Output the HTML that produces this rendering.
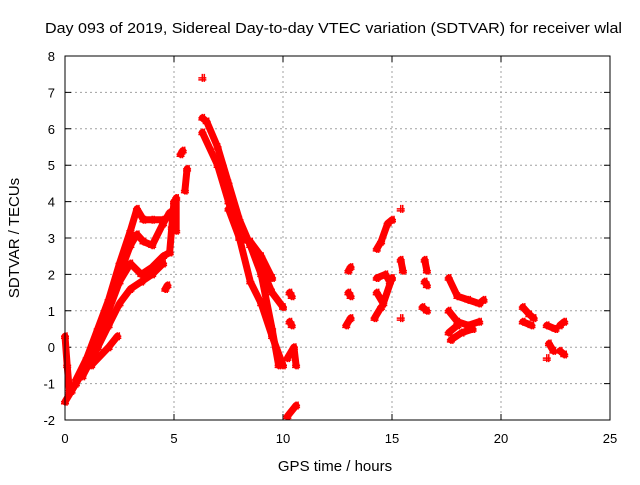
<!DOCTYPE html>
<html><head><meta charset="utf-8"><style>
body{margin:0;background:#fff;}
svg text{font-family:"Liberation Sans",sans-serif;fill:#000;}
</style></head><body>
<svg id="chart" width="640" height="480" xmlns="http://www.w3.org/2000/svg">
<rect width="640" height="480" fill="#fff"/>
<text x="45" y="33" font-size="15" textLength="577" lengthAdjust="spacingAndGlyphs">Day 093 of 2019, Sidereal Day-to-day VTEC variation (SDTVAR) for receiver wlal</text>
<text x="335" y="471" font-size="15" text-anchor="middle">GPS time / hours</text>
<text x="19" y="238" font-size="15" text-anchor="middle" transform="rotate(-90 19 238)">SDTVAR / TECUs</text>
<g id="grid"></g><g id="marks"></g>
<rect x="65" y="56" width="545" height="364" fill="none" stroke="#000" stroke-width="1"/>
</svg>
<script>
const xTicks=[0,5,10,15,20,25];
const yTicks=[-2,-1,0,1,2,3,4,5,6,7,8];
const tracks=[
[[0,-1.5],[0.5,-1],[1,-0.3],[1.5,0.5],[2,1.3],[2.5,2.3],[3,3.2],[3.3,3.8],[3.6,3.5],[4,3.5],[4.5,3.5]],
[[0.3,-1.2],[1,-0.5],[1.5,0.3],[2,1.2],[2.5,2.0],[3,2.8],[3.3,3.1],[3.6,2.9],[4,2.8],[4.5,3.4],[4.8,3.7]],
[[0.5,-0.9],[1,-0.3],[2,1],[2.5,1.8],[3,2.3],[3.5,2.0],[4,2.2],[4.5,2.5],[4.8,2.6]],
[[0.8,-0.8],[1.5,0.0],[2,0.6],[2.5,1.2],[3,1.6],[3.5,1.8],[4,2.0],[4.5,2.3]],
[[1.2,-0.5],[2,0],[2.4,0.3]],
[[0,0.3],[0.1,-0.5],[0.2,-1.2]],
[[4.6,1.6],[4.7,1.7]],
[[4.8,2.6],[4.9,3.3],[5,4.0]],
[[5.1,3.2],[5.1,4.1]],
[[5.3,5.3],[5.4,5.4]],
[[5.5,4.3],[5.6,4.9]],
[[6.3,7.4]],
[[6.3,6.3],[6.5,6.2],[7,5.5],[7.5,4.5],[8,3.5],[8.5,2.8],[9,2.0],[9.5,0.5],[9.8,-0.5]],
[[6.3,5.9],[7,5],[7.5,4],[8,3],[8.5,2.9],[9,2.5],[9.5,1.9]],
[[8.5,2.8],[9,2.2],[9.5,1.5],[10,1.1]],
[[7.5,3.8],[8,3.0],[8.5,1.8],[9,1.2],[9.5,0.3],[10,-0.5]],
[[10.3,1.5],[10.4,1.4]],[[10.3,0.7],[10.4,0.6]],
[[10.2,-0.3],[10.5,0],[10.6,-0.5]],[[10.2,-1.9],[10.6,-1.6]],
[[13,2.1],[13.1,2.2]],[[13,1.5],[13.1,1.4]],[[12.9,0.6],[13.1,0.8]],
[[14.3,2.7],[14.5,2.9],[14.8,3.4],[15,3.5]],
[[14.3,1.9],[14.7,2.0],[14.9,1.8]],
[[14.3,1.5],[14.6,1.2],[15,1.9]],
[[14.2,0.8],[14.5,1.1]],
[[15.4,3.8]],[[15.4,2.4],[15.5,2.1]],[[15.4,0.8]],
[[16.5,2.4],[16.6,2.1]],[[16.5,1.8],[16.6,1.7]],[[16.4,1.1],[16.6,1.0]],
[[17.6,1.9],[18,1.4],[18.5,1.3],[19,1.2],[19.2,1.3]],
[[17.6,1.0],[18,0.7],[18.5,0.6],[19,0.7]],
[[17.6,0.4],[18,0.6]],
[[17.7,0.2],[18.2,0.4],[18.7,0.5]],
[[21,1.1],[21.3,0.9],[21.5,0.8]],[[21,0.7],[21.4,0.6]],
[[22.1,0.6],[22.5,0.5]],[[22.2,0.1],[22.4,-0.1]],[[22.1,-0.3]],
[[22.7,0.6],[22.9,0.7]],[[22.7,-0.1],[22.9,-0.2]]
];
const NS="http://www.w3.org/2000/svg";
const X0=65,X1=610,Y0=420,Y1=56;
function sx(v){return X0+(v-0)/(25-0)*(X1-X0);}
function sy(v){return Y0-(v+2)/(8+2)*(Y0-Y1);}
const grid=document.getElementById('grid'),marks=document.getElementById('marks');
function mk(t,a){const e=document.createElementNS(NS,t);for(const k in a)e.setAttribute(k,a[k]);return e;}
xTicks.forEach(t=>{
 if(t>0&&t<25){const l=mk('line',{x1:sx(t),x2:sx(t),y1:Y1,y2:Y0,stroke:'#a0a0a0','stroke-dasharray':'2,3'});
 
 grid.appendChild(l);}
 const tk=mk('path',{d:`M${sx(t)},${Y0}v-6M${sx(t)},${Y1}v6`,stroke:'#000'});
 
 grid.appendChild(tk);
 const tx=mk('text',{x:sx(t),y:Y0+23,'font-size':13,'text-anchor':'middle'});tx.textContent=t;
 
 grid.appendChild(tx);
});
yTicks.forEach(t=>{
 if(t>-2&&t<8){const l=mk('line',{x1:X0,x2:X1,y1:sy(t),y2:sy(t),stroke:'#a0a0a0','stroke-dasharray':'2,3'});
 
 grid.appendChild(l);}
 const tk=mk('path',{d:`M${X0},${sy(t)}h6M${X1},${sy(t)}h-6`,stroke:'#000'});
 
 grid.appendChild(tk);
 const tx=mk('text',{x:X0-10,y:sy(t)+5,'font-size':13,'text-anchor':'end'});tx.textContent=t;
 
 grid.appendChild(tx);
});
tracks.forEach(tr=>{
 if(tr.length>1){const p=mk('polyline',{points:tr.map(q=>sx(q[0])+','+sy(q[1])).join(' '),fill:'none',stroke:'#ff0000','stroke-width':7,'stroke-linecap':'round','stroke-linejoin':'round'});
 
 marks.appendChild(p);}
 tr.forEach(q=>{const m=mk('path',{d:`M${sx(q[0])-4},${sy(q[1])}h8M${sx(q[0])},${sy(q[1])-4}v8M${sx(q[0])-4},${sy(q[1])+2}h8M${sx(q[0])+2},${sy(q[1])-4}v8`,stroke:'#ff0000','stroke-width':1.5});
 
 marks.appendChild(m);});
});
</script>
</body></html>
